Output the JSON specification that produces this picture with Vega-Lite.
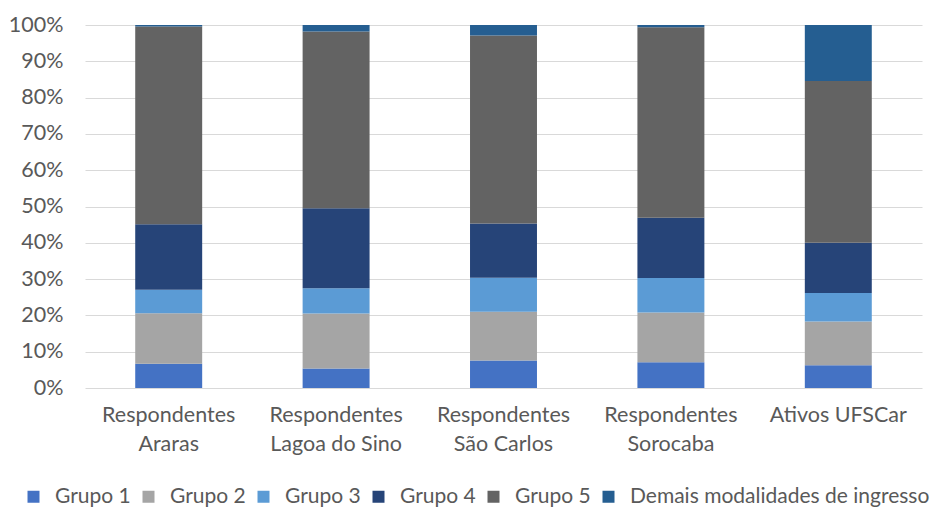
{
  "$schema": "https://vega.github.io/schema/vega-lite/v6.json",
  "autosize": "none",
  "width": 837,
  "height": 363,
  "padding": {"left": 85, "top": 25, "right": 19, "bottom": 119},
  "background": "white",
  "config": {
    "view": {"stroke": null},
    "font": "Lato",
    "axis": {"labelFont": "Lato", "labelColor": "#595959", "labelFontSize": 21.5}
  },
  "data": {
    "values": [
      {"local": "Respondentes|Araras", "grupo": "Grupo 1", "ordem": 1, "valor": 6.7},
      {"local": "Respondentes|Araras", "grupo": "Grupo 2", "ordem": 2, "valor": 13.9},
      {"local": "Respondentes|Araras", "grupo": "Grupo 3", "ordem": 3, "valor": 6.5},
      {"local": "Respondentes|Araras", "grupo": "Grupo 4", "ordem": 4, "valor": 18.0},
      {"local": "Respondentes|Araras", "grupo": "Grupo 5", "ordem": 5, "valor": 54.5},
      {"local": "Respondentes|Araras", "grupo": "Demais modalidades de ingresso", "ordem": 6, "valor": 0.4},
      {"local": "Respondentes|Lagoa do Sino", "grupo": "Grupo 1", "ordem": 1, "valor": 5.4},
      {"local": "Respondentes|Lagoa do Sino", "grupo": "Grupo 2", "ordem": 2, "valor": 15.1},
      {"local": "Respondentes|Lagoa do Sino", "grupo": "Grupo 3", "ordem": 3, "valor": 7.0},
      {"local": "Respondentes|Lagoa do Sino", "grupo": "Grupo 4", "ordem": 4, "valor": 22.0},
      {"local": "Respondentes|Lagoa do Sino", "grupo": "Grupo 5", "ordem": 5, "valor": 48.7},
      {"local": "Respondentes|Lagoa do Sino", "grupo": "Demais modalidades de ingresso", "ordem": 6, "valor": 1.8},
      {"local": "Respondentes|São Carlos", "grupo": "Grupo 1", "ordem": 1, "valor": 7.6},
      {"local": "Respondentes|São Carlos", "grupo": "Grupo 2", "ordem": 2, "valor": 13.4},
      {"local": "Respondentes|São Carlos", "grupo": "Grupo 3", "ordem": 3, "valor": 9.4},
      {"local": "Respondentes|São Carlos", "grupo": "Grupo 4", "ordem": 4, "valor": 14.9},
      {"local": "Respondentes|São Carlos", "grupo": "Grupo 5", "ordem": 5, "valor": 51.8},
      {"local": "Respondentes|São Carlos", "grupo": "Demais modalidades de ingresso", "ordem": 6, "valor": 2.9},
      {"local": "Respondentes|Sorocaba", "grupo": "Grupo 1", "ordem": 1, "valor": 7.1},
      {"local": "Respondentes|Sorocaba", "grupo": "Grupo 2", "ordem": 2, "valor": 13.7},
      {"local": "Respondentes|Sorocaba", "grupo": "Grupo 3", "ordem": 3, "valor": 9.5},
      {"local": "Respondentes|Sorocaba", "grupo": "Grupo 4", "ordem": 4, "valor": 16.6},
      {"local": "Respondentes|Sorocaba", "grupo": "Grupo 5", "ordem": 5, "valor": 52.5},
      {"local": "Respondentes|Sorocaba", "grupo": "Demais modalidades de ingresso", "ordem": 6, "valor": 0.6},
      {"local": "Ativos UFSCar", "grupo": "Grupo 1", "ordem": 1, "valor": 6.3},
      {"local": "Ativos UFSCar", "grupo": "Grupo 2", "ordem": 2, "valor": 12.0},
      {"local": "Ativos UFSCar", "grupo": "Grupo 3", "ordem": 3, "valor": 7.9},
      {"local": "Ativos UFSCar", "grupo": "Grupo 4", "ordem": 4, "valor": 13.8},
      {"local": "Ativos UFSCar", "grupo": "Grupo 5", "ordem": 5, "valor": 44.6},
      {"local": "Ativos UFSCar", "grupo": "Demais modalidades de ingresso", "ordem": 6, "valor": 15.4}
    ]
  },
  "mark": {"type": "bar"},
  "encoding": {
    "x": {
      "field": "local",
      "type": "nominal",
      "sort": null,
      "scale": {"paddingInner": 0.6, "paddingOuter": 0.3},
      "axis": {
        "title": null,
        "labelAngle": 0,
        "labelExpr": "split(datum.label, '|')",
        "labelPadding": 16,
        "labelBaseline": "top",
        "labelLineHeight": 29,
        "labelLimit": 300,
        "ticks": false,
        "domain": false,
        "grid": false
      }
    },
    "y": {
      "field": "valor",
      "type": "quantitative",
      "stack": "zero",
      "scale": {"domain": [0, 100], "nice": false},
      "axis": {
        "title": null,
        "values": [0, 10, 20, 30, 40, 50, 60, 70, 80, 90, 100],
        "labelExpr": "datum.value + '%'",
        "ticks": false,
        "domain": false,
        "grid": true,
        "gridColor": "#d9d9d9",
        "gridWidth": 1,
        "labelPadding": 22
      }
    },
    "order": {"field": "ordem", "type": "quantitative"},
    "color": {
      "field": "grupo",
      "type": "nominal",
      "scale": {
        "domain": ["Grupo 1", "Grupo 2", "Grupo 3", "Grupo 4", "Grupo 5", "Demais modalidades de ingresso"],
        "range": ["#4472C4", "#A5A5A5", "#5B9BD5", "#264478", "#636363", "#255E91"]
      },
      "legend": {
        "title": null,
        "orient": "none",
        "direction": "horizontal",
        "legendX": -62,
        "legendY": 461,
        "symbolType": "square",
        "symbolSize": 144,
        "symbolStrokeWidth": 0,
        "labelFont": "Lato",
        "labelFontSize": 21,
        "labelColor": "#595959",
        "labelOffset": 11,
        "labelLimit": 400,
        "columnPadding": 7,
        "columns": 6
      }
    }
  }
}
